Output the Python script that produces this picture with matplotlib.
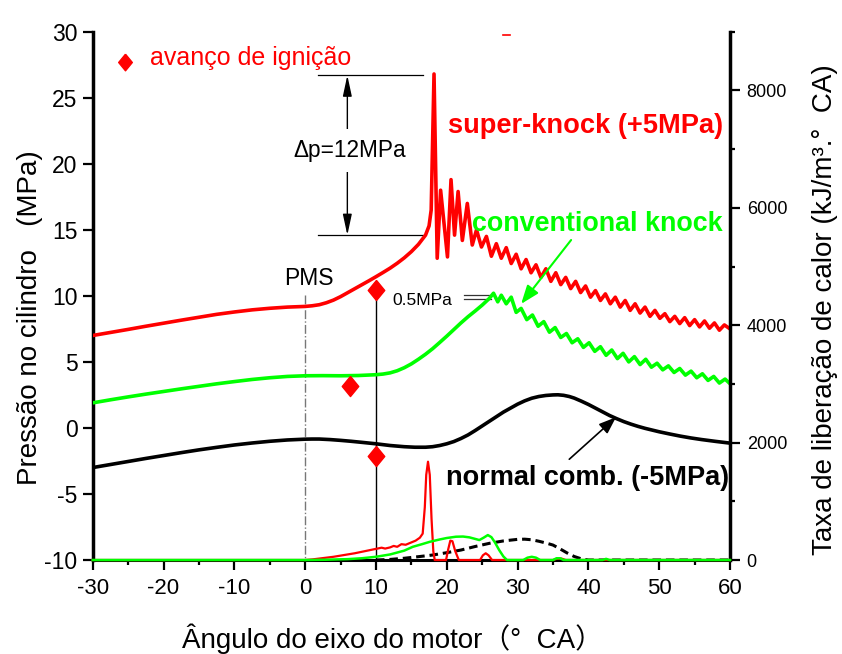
import numpy as np
import matplotlib
matplotlib.use("Agg")
import matplotlib.pyplot as plt
from matplotlib.ticker import MultipleLocator, FixedLocator

plt.rcParams['font.family'] = ['Liberation Sans', 'DejaVu Sans', 'Noto Sans CJK SC']
plt.rcParams['axes.unicode_minus'] = False

# ---------------- data ----------------
# crank angle (deg CA) and cylinder pressure (MPa)
sk_offset = 5.0      # super-knock curve shifted up
nc_offset = -5.0     # normal combustion curve shifted down

sk_ca = [-30, -27.5, -25, -22.5, -20, -17.5, -15, -12.5, -10, -7.5, -5, -2.5, 0, 1, 2, 3, 4,
         5, 6, 7, 8, 9, 10, 11, 12, 13, 14, 15, 16, 17, 17.5, 17.8,
         18.2, 18.65, 19.13, 20.1, 20.6, 21.1, 21.6, 22.2, 22.9, 23.6, 24.2, 24.9, 25.6,
         26.3, 27.0, 27.7, 28.4, 29.1, 29.8, 30.5, 31.2, 31.9, 32.6, 33.3, 34.0, 34.7,
         35.4, 36.1, 36.8, 37.5, 38.2, 38.9, 39.6, 40.3, 41.0, 41.7, 42.4, 43.1, 43.8,
         44.5, 45.2, 45.9, 46.6, 47.3, 48.0, 48.7, 49.4, 50.1, 50.8, 51.5, 52.2, 52.9,
         53.6, 54.3, 55.0, 55.7, 56.4, 57.1, 57.8, 58.5, 59.2, 60.0]
sk_p = [2.0, 2.23, 2.46, 2.7, 2.93, 3.16, 3.38, 3.6, 3.78, 3.94, 4.06, 4.15, 4.2, 4.25, 4.33,
        4.48, 4.68, 4.94, 5.24, 5.54, 5.84, 6.14, 6.45, 6.77, 7.1, 7.47, 7.88, 8.35, 8.9,
        9.6, 10.3, 11.5,
        21.8, 7.85, 13.0, 7.95, 13.8, 9.6, 12.9, 9.2, 12.0, 8.85, 10.0, 8.7, 9.5,
        8.0, 8.95, 7.85, 8.65, 7.45, 8.15, 7.05, 7.75, 6.75, 7.35, 6.4, 7.05, 6.1,
        6.75, 5.85, 6.4, 5.55, 6.1, 5.25, 5.75, 4.9, 5.4, 4.65, 5.15, 4.4, 4.9,
        4.15, 4.65, 3.9, 4.4, 3.7, 4.15, 3.45, 3.9, 3.3, 3.65, 3.05, 3.45, 2.9,
        3.35, 2.75, 3.2, 2.65, 3.1, 2.55, 2.95, 2.4, 2.8, 2.5]

ck_ca = [-30, -27.5, -25, -22.5, -20, -17.5, -15, -12.5, -10, -7.5, -5, -2.5, 0, 2.5, 5,
         7.5, 10, 11, 12, 13, 14, 15, 16, 17, 18, 19, 20, 21, 22, 23, 24, 25, 26, 26.6,
         27.2, 27.7, 28.4, 29.1, 29.8, 30.5, 31.3, 32.1, 32.9, 33.7, 34.5, 35.3, 36.1,
         36.9, 37.7, 38.5, 39.3, 40.1, 40.9, 41.7, 42.5, 43.3, 44.1, 44.9, 45.7, 46.5,
         47.3, 48.1, 48.9, 49.7, 50.5, 51.3, 52.1, 52.9, 53.7, 54.5, 55.3, 56.1, 56.9,
         57.7, 58.5, 59.3, 60.0]
ck_p = [1.9, 2.13, 2.35, 2.56, 2.76, 2.96, 3.15, 3.34, 3.51, 3.67, 3.8, 3.9, 3.95, 3.96,
        3.95, 3.97, 4.03, 4.08, 4.17, 4.33, 4.56, 4.85, 5.2, 5.58, 6.0, 6.47, 6.95, 7.45,
        7.95, 8.42, 8.85, 9.3, 9.8, 10.2,
        9.55, 10.05, 9.4, 9.9, 8.75, 9.05, 8.2, 8.55, 7.7, 8.05, 7.25, 7.6, 6.85,
        7.15, 6.45, 6.75, 6.1, 6.45, 5.8, 6.15, 5.5, 5.9, 5.25, 5.65, 5.0, 5.4,
        4.8, 5.2, 4.6, 4.9, 4.4, 4.7, 4.2, 4.5, 4.0, 4.3, 3.8, 4.1, 3.6,
        3.9, 3.4, 3.7, 3.35]

nc_ca = [-30, -27.5, -25, -22.5, -20, -17.5, -15, -12.5, -10, -7.5, -5, -2.5, 0, 1, 2, 3.5,
         5, 6.5, 8, 10, 12, 14, 15.5, 17, 18, 19, 20, 21, 22, 23, 24, 25, 26, 27, 28, 29,
         30, 31, 32, 33, 34, 35, 35.7, 36.5, 37.3, 38, 39, 40, 41, 42, 43, 44, 45, 46, 47,
         48, 49, 50, 51.5, 53, 54.5, 56, 58, 60]
nc_p = [2.0, 2.23, 2.46, 2.69, 2.91, 3.13, 3.34, 3.53, 3.71, 3.86, 3.99, 4.09, 4.15, 4.16,
        4.16, 4.12, 4.06, 3.99, 3.91, 3.8, 3.67, 3.58, 3.54, 3.54, 3.58, 3.67, 3.8, 3.97,
        4.2, 4.47, 4.8, 5.15, 5.5, 5.85, 6.2, 6.5, 6.8, 7.05, 7.25, 7.38, 7.46, 7.5, 7.51,
        7.47, 7.38, 7.26, 7.03, 6.78, 6.5, 6.22, 5.94, 5.7, 5.48, 5.29, 5.12, 4.97, 4.84,
        4.71, 4.54, 4.38, 4.24, 4.12, 3.98, 3.85]

# heat release rate (kJ/m3 per deg CA)
sk_hr_ca = [-30, 0, 1, 2, 3, 4, 5, 6, 7, 8, 9, 10, 10.8, 11.3, 12, 12.5, 13, 13.6, 14.2, 15,
            15.6, 16.2, 16.6, 16.9, 17.1, 17.35, 17.6, 17.85, 18.1, 18.3, 19.9, 20.2, 20.5,
            20.8, 21.2, 21.7, 24.7, 25.1, 25.5, 25.9, 26.4, 35.0, 35.5, 36.2, 36.8, 60]
sk_hr = [0, 0, 10, 25, 40, 55, 75, 95, 115, 140, 165, 190, 210, 195, 215, 240, 225, 270, 260,
         300, 330, 380, 450, 900, 1450, 1675, 1450, 700, 150, 0, 0, 180, 330,
         320, 150, 0, 0, 80, 115, 80, 0, 0, 20, 25, 0, 0]

ck_hr_ca = [-30, 0, 3, 6, 8, 10, 12, 14, 15.2, 16.5, 17.6, 19, 20, 21.3, 22.3, 23.2, 24,
            24.6, 25.2, 25.8, 26.3, 26.8, 27.4, 28, 28.5, 30.8, 31.4, 32, 32.6, 33.2, 35,
            35.5, 36, 36.5, 42, 42.5, 43, 60]
ck_hr = [0, 0, 5, 15, 30, 55, 95, 160, 225, 270, 310, 350, 375, 397, 400, 386, 360,
         340, 380, 425, 390, 300, 170, 60, 0, 0, 40, 55, 40, 0, 0,
         30, 30, 0, 0, 20, 0, 0]

nc_hr_ca = [10, 12, 14, 16, 18, 20, 22, 24, 26, 28, 30, 31, 32, 33, 34, 35, 36, 37, 38,
            39, 40, 60]
nc_hr = [0, 10, 30, 57, 85, 125, 170, 230, 284, 325, 352, 355, 345, 320, 290, 255, 190,
         120, 60, 20, 0, 0]

# ignition timing marks (deg CA, plotted pressure)
ign_ca = [10, 6.3, 10]
ign_p = [10.45, 3.15, -2.1]

x_ticks = [-30, -20, -10, 0, 10, 20, 30, 40, 50, 60]
p_ticks = [-10, -5, 0, 5, 10, 15, 20, 25, 30]
hr_ticks = [0, 2000, 4000, 6000, 8000]

RED = '#ff0000'
GREEN = '#00ff00'

# ---------------- figure ----------------
fig = plt.figure(figsize=(8.42, 6.54), dpi=100)
ax = fig.add_axes([0.1101, 0.1437, 0.7569, 0.8078])
ax2 = ax.twinx()

ax.set_xlim(-30, 60)
ax.set_ylim(-10, 30)
ax2.set_ylim(0, 9000)

# pressure traces
ax.plot(sk_ca, np.array(sk_p) + sk_offset, color=RED, lw=2.6, zorder=4)
ax.plot(ck_ca, ck_p, color=GREEN, lw=2.6, zorder=4)
ax.plot(nc_ca, np.array(nc_p) + nc_offset, color='black', lw=2.6, zorder=4)

# heat release traces
ax2.plot(nc_hr_ca, nc_hr, color='black', lw=2.2, dashes=(2.8, 1.6), zorder=3, clip_on=False)
ax2.plot(sk_hr_ca, sk_hr, color=RED, lw=1.6, zorder=4, clip_on=False)
ax2.plot(ck_hr_ca, ck_hr, color=GREEN, lw=1.8, zorder=5, clip_on=False)

# TDC line and ignition guide line
ax.plot([0, 0], [10.1, -10], color='#777777', lw=1.0, ls='-.', zorder=2)
ax.text(0.55, 11.3, 'PMS', fontsize=16.5, ha='center', va='center')
ax.plot([ign_ca[0], ign_ca[0]], [ign_p[0], -10], color='black', lw=1.0, zorder=2)

diamond = [(0, 1), (0.82, 0), (0, -1), (-0.82, 0), (0, 1)]
ax.plot(ign_ca, ign_p, ls='none', marker=diamond, ms=14.5, color=RED, zorder=6)
ax.plot([-25.4], [27.7], ls='none', marker=diamond, ms=12, color=RED, clip_on=False)
ax.text(-21.9, 28.0, 'avanço de ignição', color=RED, fontsize=18, va='center', ha='left')

# pressure rise annotation
ax.plot([1.8, 16.6], [26.7, 26.7], color='black', lw=0.9)
ax.plot([1.8, 16.6], [14.6, 14.6], color='black', lw=0.9)
ax.annotate('', xy=(5.96, 26.7), xytext=(5.96, 14.6),
            arrowprops=dict(arrowstyle='<|-|>,head_length=0.7,head_width=0.15',
                            mutation_scale=18, color='black', lw=1.0,
                            shrinkA=0, shrinkB=0))
ax.text(6.3, 21.0, 'Δp=12MPa', fontsize=16.3, ha='center', va='center', zorder=5,
        bbox=dict(boxstyle='square,pad=0.45', fc='white', ec='none'))

# amplitude marker for conventional knock
ax.text(12.3, 9.31, '0.5MPa', fontsize=12.5, ha='left', va='baseline')
ax.plot([22.5, 26.4], [10.1, 10.1], color='#333333', lw=0.9)
ax.plot([22.5, 26.2], [9.75, 9.75], color='#333333', lw=0.9)

# curve labels
ax.text(20.15, 22.35, 'super-knock (+5MPa)', color=RED, fontsize=19.6,
        fontweight='bold', ha='left', va='baseline')
ax.text(23.5, 14.9, 'conventional knock', color=GREEN, fontsize=19.4,
        fontweight='bold', ha='left', va='baseline', zorder=5)
ax.text(19.83, -4.31, 'normal comb. (-5MPa)', color='black', fontsize=19.5,
        fontweight='bold', ha='left', va='baseline')

ax.annotate('', xy=(30.5, 9.39), xytext=(37.56, 14.23),
            arrowprops=dict(arrowstyle='-|>,head_length=0.8,head_width=0.3',
                            mutation_scale=14, color=GREEN, lw=1.5,
                            shrinkA=0, shrinkB=0), zorder=6)
ax.annotate('', xy=(43.9, 0.81), xytext=(37.3, -2.37),
            arrowprops=dict(arrowstyle='-|>,head_length=0.8,head_width=0.3',
                            mutation_scale=13, color='black', lw=1.2,
                            shrinkA=0, shrinkB=0), zorder=6)

# small red stroke near the top
ax.plot([27.9, 29.0], [29.75, 29.75], color=RED, lw=1.2)

# ---------------- axes styling ----------------
for s in ['top', 'right']:
    ax.spines[s].set_visible(False)
for s in ['top', 'left', 'bottom']:
    ax2.spines[s].set_visible(False)
ax.spines['left'].set_linewidth(2.5)
ax.spines['bottom'].set_linewidth(2.2)
ax2.spines['right'].set_linewidth(2.5)

ax.xaxis.set_major_locator(FixedLocator(x_ticks))
ax.xaxis.set_minor_locator(MultipleLocator(5))
ax.yaxis.set_major_locator(FixedLocator(p_ticks))
ax2.yaxis.set_major_locator(FixedLocator(hr_ticks))
ax2.yaxis.set_minor_locator(FixedLocator([1000, 3000, 5000, 7000, 9000]))

ax.tick_params(axis='x', which='major', direction='out', length=7, width=1.6,
               labelsize=16, pad=6)
ax.tick_params(axis='x', which='minor', direction='out', length=3.5, width=1.6)
ax.tick_params(axis='y', which='major', direction='out', length=7, width=1.6,
               labelsize=16.5, pad=4)
ax2.tick_params(axis='y', which='major', direction='out', length=7, width=1.6,
                labelsize=13, pad=5)
ax2.tick_params(axis='y', which='minor', direction='out', length=3.5, width=1.6)

fig.text(0.036, 0.514, 'Pressão no cilindro   (MPa)', rotation=90, fontsize=20,
         ha='center', va='center')
fig.text(0.98, 0.526, 'Taxa de liberação de calor (kJ/m³.°  CA)', rotation=90,
         fontsize=20, ha='center', va='center')
fig.text(0.466, 0.009, 'Ângulo do eixo do motor（°  CA）', fontsize=20,
         ha='center', va='baseline',
         family=['Liberation Sans', 'Noto Sans CJK SC'])

fig.savefig('out.png', dpi=100)
